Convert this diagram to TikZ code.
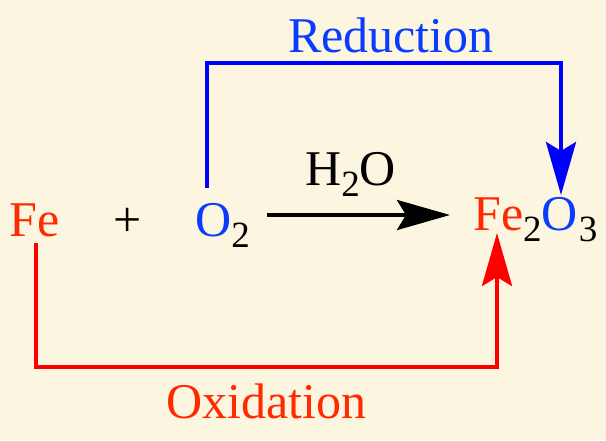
\documentclass[tikz,border=0pt]{standalone}
\usepackage{fontspec}
\setmainfont{Liberation Serif}
\usetikzlibrary{arrows.meta}
\definecolor{bg}{HTML}{FCF5E0}
\definecolor{txtred}{HTML}{FF2A00}
\definecolor{txtblue}{HTML}{0A3CFF}
\definecolor{linered}{HTML}{FF0000}
\definecolor{lineblue}{HTML}{0000FF}
\newcommand{\subn}[1]{\raisebox{-11pt}{\fontsize{37}{40}\selectfont\textcolor{black}{#1}}}
\tikzset{
  px/.style={x=1pt,y=-1pt},
  lbl/.style={inner sep=0pt,anchor=base west,font=\fontsize{50}{54}\selectfont},
  tip/.style={-{Stealth[length=53pt,width=30pt,inset=9pt]}},
  conn/.style={line width=4pt,line join=miter},
}
\begin{document}
\begin{tikzpicture}[px]
\useasboundingbox[fill=bg] (0,0) rectangle (606,440);
\node[lbl,text=txtred] (fe) at (9,236) {Fe};
\node[lbl] (plus) at (113,236) {+};
\node[lbl,text=txtblue] (o2) at (195,236) {O\subn{2}};
\node[lbl] (water) at (305,185) {H\subn{2}O};
\node[lbl] (prod) at (473,230.5) {\textcolor{txtred}{Fe}\subn{2}\textcolor{txtblue}{O}\kern1pt\subn{3}};
\node[lbl,text=txtblue] (red) at (288,52) {Reduction};
\node[lbl,text=txtred] (ox) at (166,418) {Oxidation};
\coordinate (a1) at (207,188);
\coordinate (a2) at (207,63);
\coordinate (a3) at (561,63);
\coordinate (a4) at (561,195);
\coordinate (b1) at (36,243);
\coordinate (b2) at (36,367);
\coordinate (b3) at (497,367);
\coordinate (b4) at (497,233);
\coordinate (c1) at (267,215);
\coordinate (c2) at (450,215);
\draw[conn,lineblue,tip] (a1) -- (a2) -- (a3) -- (a4);
\draw[conn,linered,tip] (b1) -- (b2) -- (b3) -- (b4);
\draw[conn,black,tip] (c1) -- (c2);
\end{tikzpicture}
\end{document}
